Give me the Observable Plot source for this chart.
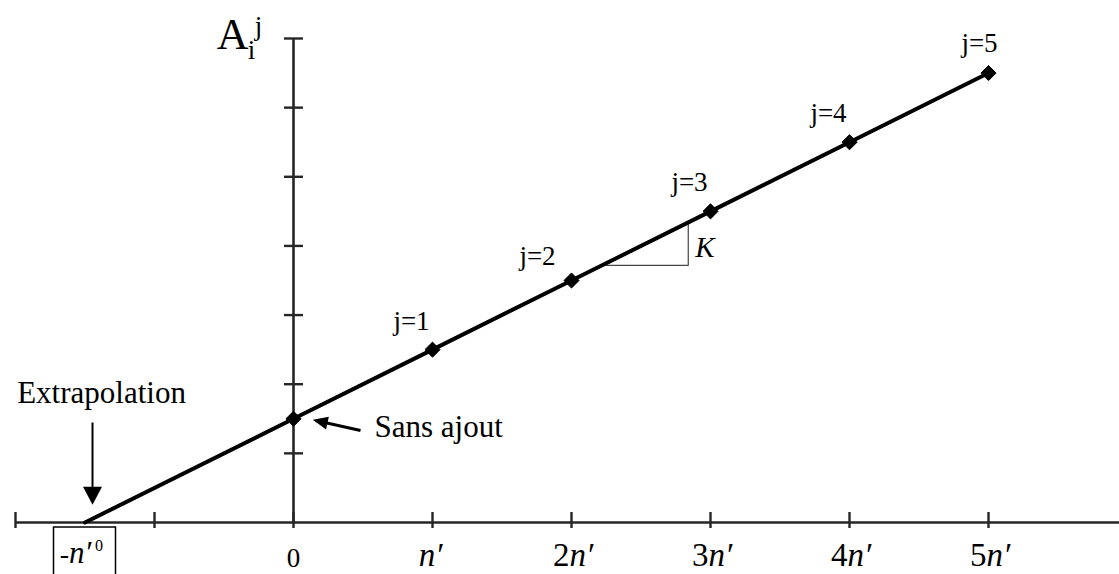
<!DOCTYPE html>
<html>
<head>
<meta charset="utf-8">
<script src="https://cdn.jsdelivr.net/npm/d3@7"></script>
<script src="https://cdn.jsdelivr.net/npm/@observablehq/plot@0.6"></script>
<style>
  html, body { margin: 0; padding: 0; background: #fff; }
  #chart { width: 1119px; height: 574px; overflow: hidden; }
</style>
</head>
<body>
<div id="chart"></div>
<script>
// ---- data ----
const additions = [0, 1, 2, 3, 4, 5];                 // added amount, multiples of n'
const responses = [1.5, 2.5, 3.5, 4.5, 5.5, 6.5];     // A_i^j
const pointLabels = ["Sans ajout", "j=1", "j=2", "j=3", "j=4", "j=5"];
const extrapolatedX = -1.5;                           // -n'0, where the line meets the x axis
const xTicks = [-2, -1, 0, 1, 2, 3, 4, 5];
const xTickCoefficients = [2, 3, 4, 5];               // "2n′" ... "5n′"
const xTickUnit = "n′";
const yTicks = [1, 2, 3, 4, 5, 6, 7];
const xAxisExtent = [-2, 5.95];
const yAxisExtent = [0, 7];
const slopeX = [2.245, 2.84, 2.84];                   // slope triangle K
const slopeY = [3.72, 3.72, 4.34];
const sansAjoutArrow = [{x1: 0.482, y1: 1.331, x2: 0.16, y2: 1.475}];
const extrapolationArrow = [{x1: -1.446, y1: 1.446, x2: -1.446, y2: 0.30}];

// ---- derived tables ----
const points = additions.map((x, i) => ({x, y: responses[i], label: pointLabels[i]}));
const fitLine = [{x: extrapolatedX, y: 0}, ...points];
const slopeTri = slopeX.map((x, i) => ({x, y: slopeY[i]}));

function solidHead(length, halfWidth) {
  return (color) => {
    const m = d3.create("svg:marker")
      .attr("viewBox", `0 ${-halfWidth} ${length} ${2 * halfWidth}`)
      .attr("markerUnits", "userSpaceOnUse")
      .attr("markerWidth", length)
      .attr("markerHeight", 2 * halfWidth)
      .attr("refX", length - 3)
      .attr("refY", 0)
      .attr("orient", "auto")
      .attr("overflow", "visible");
    m.append("path")
      .attr("d", `M0,${-halfWidth}L${length},0L0,${halfWidth}Z`)
      .attr("fill", color)
      .attr("stroke", "none");
    const node = m.node();
    node.node = () => node;
    return node;
  };
}

const axisColor = "#262626";
const serif = "Liberation Serif";

const chart = Plot.plot({
  width: 1119,
  height: 574,
  marginLeft: 15,
  marginRight: 131,
  marginTop: 38,
  marginBottom: 52,
  x: {domain: [-2, 5], axis: null},
  y: {domain: [0, 7], axis: null},
  style: {fontFamily: serif, background: "white", color: "black", overflow: "visible"},
  marks: [
    // axes
    Plot.ruleY([0], {x1: xAxisExtent[0], x2: xAxisExtent[1], stroke: axisColor, strokeWidth: 2.6}),
    Plot.ruleX([0], {y1: yAxisExtent[0], y2: yAxisExtent[1], stroke: axisColor, strokeWidth: 2.6}),
    Plot.ruleX(xTicks, {y1: 0, y2: 0, insetTop: -10, insetBottom: -6, stroke: axisColor, strokeWidth: 2.4}),
    Plot.ruleY(yTicks, {x1: 0, x2: 0, insetLeft: -9, insetRight: -10, stroke: axisColor, strokeWidth: 2.4}),

    // slope triangle
    Plot.line(slopeTri, {x: "x", y: "y", stroke: "#444", strokeWidth: 1.2, curve: "linear"}),
    Plot.text(["K"], {x: slopeX[1], y: slopeY[1], text: d => d, textAnchor: "start", lineAnchor: "bottom",
      dx: 7, dy: -8, fontSize: 29, fontStyle: "italic", fill: "black"}),

    // fitted line and measured points
    Plot.line(fitLine, {x: "x", y: "y", stroke: "black", strokeWidth: 4}),
    Plot.dot(points, {x: "x", y: "y", symbol: "diamond2", r: 6.8, fill: "black", stroke: "black", strokeWidth: 1}),

    // point labels
    Plot.text(points.filter((d, i) => i === 1 || i === 3 || i === 4), {x: "x", y: "y", text: "label",
      lineAnchor: "bottom", dx: -21, dy: -20, fontSize: 27, fill: "black"}),
    Plot.text(points.filter((d, i) => i === 2), {x: "x", y: "y", text: "label",
      lineAnchor: "bottom", dx: -34, dy: -16, fontSize: 27, fill: "black"}),
    Plot.text(points.filter((d, i) => i === 5), {x: "x", y: "y", text: "label",
      lineAnchor: "bottom", dx: -9, dy: -21, fontSize: 27, fill: "black"}),

    // "Sans ajout" arrow + label
    Plot.link(sansAjoutArrow, {x1: "x1", y1: "y1", x2: "x2", y2: "y2", stroke: "black", strokeWidth: 3,
      markerEnd: solidHead(15, 6.5)}),
    Plot.text(sansAjoutArrow, {x: "x1", y: "y1", text: () => pointLabels[0], textAnchor: "start",
      lineAnchor: "bottom", dx: 14, dy: 7, fontSize: 31, letterSpacing: 1.2, fill: "black"}),

    // Extrapolation arrow + label
    Plot.link(extrapolationArrow, {x1: "x1", y1: "y1", x2: "x2", y2: "y2", stroke: "black", strokeWidth: 2,
      markerEnd: solidHead(18, 9.5)}),
    Plot.text(extrapolationArrow, {x: "x1", y: "y1", text: () => "Extrapolation", textAnchor: "middle",
      lineAnchor: "bottom", dx: 9, dy: -20, fontSize: 31, letterSpacing: 1.4, fill: "black"}),

    // x tick labels
    Plot.text([0], {x: d => d, y: 0, text: d => String(d), lineAnchor: "bottom", dy: 44, fontSize: 27, fill: "black"}),
    Plot.text([1], {x: d => d, y: 0, text: () => xTickUnit, lineAnchor: "bottom", dx: -2, dy: 43,
      fontSize: 33, fontStyle: "italic", fill: "black"}),
    Plot.text(xTickCoefficients, {x: d => d, y: 0, text: d => String(d), textAnchor: "end", lineAnchor: "bottom",
      dx: -2, dy: 43, fontSize: 33, fill: "black"}),
    Plot.text(xTickCoefficients, {x: d => d, y: 0, text: () => xTickUnit, textAnchor: "start", lineAnchor: "bottom",
      dx: -2, dy: 43, fontSize: 33, fontStyle: "italic", fill: "black"}),

    // boxed -n'0 label at the extrapolated intercept
    Plot.rect([extrapolatedX], {x1: d => d, x2: d => d, y1: 0, y2: 0, insetLeft: -31, insetRight: -31,
      insetTop: 5, insetBottom: -60, fill: "none", stroke: "black", strokeWidth: 1.5}),
    Plot.text([extrapolatedX], {x: d => d, y: 0, text: () => "-", textAnchor: "end", lineAnchor: "bottom",
      dx: -16, dy: 40, fontSize: 28, fill: "black"}),
    Plot.text([extrapolatedX], {x: d => d, y: 0, text: () => "n′", textAnchor: "start", lineAnchor: "bottom",
      dx: -16, dy: 40, fontSize: 31, fontStyle: "italic", fill: "black"}),
    Plot.text([extrapolatedX], {x: d => d, y: 0, text: () => "0", textAnchor: "start", lineAnchor: "bottom",
      dx: 10, dy: 28, fontSize: 16, fill: "black"}),

    // y axis title A_i^j
    Plot.text(["A"], {x: 0, y: yAxisExtent[1], text: d => d, textAnchor: "end", lineAnchor: "bottom",
      dx: -45, dy: 10, fontSize: 44, fill: "black"}),
    Plot.text(["i"], {x: 0, y: yAxisExtent[1], text: d => d, textAnchor: "middle", lineAnchor: "bottom",
      dx: -42, dy: 20, fontSize: 27, fill: "black"}),
    Plot.text(["j"], {x: 0, y: yAxisExtent[1], text: d => d, textAnchor: "middle", lineAnchor: "bottom",
      dx: -35, dy: -4, fontSize: 27, fill: "black"})
  ]
});

document.getElementById("chart").appendChild(chart);
</script>
</body>
</html>
